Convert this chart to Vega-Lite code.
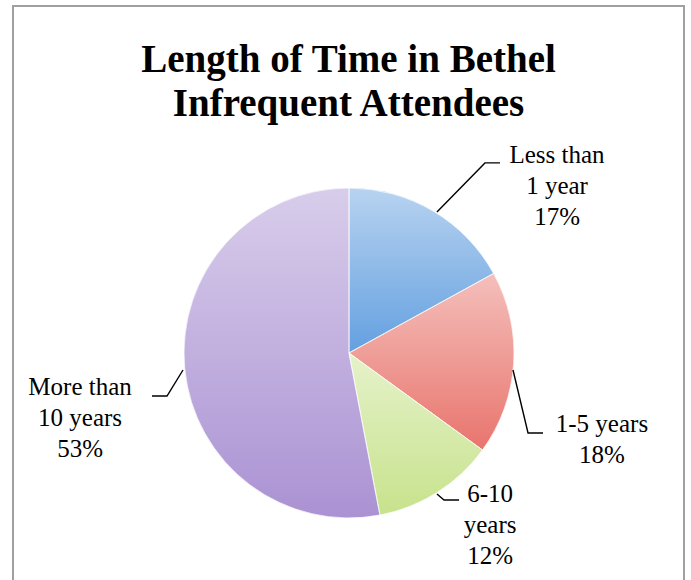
{
  "$schema": "https://vega.github.io/schema/vega-lite/v6.json",
  "width": 671,
  "height": 580,
  "autosize": "none",
  "padding": {"left": 13, "top": 6, "right": 7, "bottom": 0},
  "background": "#ffffff",
  "config": {
    "view": {"stroke": "#a0a0a0", "strokeWidth": 2},
    "font": "Liberation Serif"
  },
  "title": {
    "text": ["Length of Time in Bethel", "Infrequent Attendees"],
    "orient": "top",
    "anchor": "middle",
    "frame": "group",
    "offset": -118,
    "font": "Liberation Serif",
    "fontSize": 39,
    "fontWeight": "bold",
    "lineHeight": 44,
    "color": "#000000"
  },
  "datasets": {
    "shares": [
      {"category": "Less than 1 year", "percent": 17, "order": 1},
      {"category": "1-5 years", "percent": 18, "order": 2},
      {"category": "6-10 years", "percent": 12, "order": 3},
      {"category": "More than 10 years", "percent": 53, "order": 4}
    ],
    "labels": [
      {"category": "Less than 1 year", "text": "Less than\n1 year\n17%", "lx": 126.1, "ly": 115.2},
      {"category": "1-5 years", "text": "1-5 years\n18%", "lx": 153.3, "ly": -47.9},
      {"category": "6-10 years", "text": "6-10\nyears\n12%", "lx": 85.5, "ly": -90.3},
      {"category": "More than 10 years", "text": "More than\n10 years\n53%", "lx": -163.0, "ly": -25.5}
    ],
    "leaders": [
      {"category": "Less than 1 year", "step": 1, "lx": 53.3, "ly": 85.5},
      {"category": "Less than 1 year", "step": 2, "lx": 82.4, "ly": 115.2},
      {"category": "Less than 1 year", "step": 3, "lx": 91.5, "ly": 115.2},
      {"category": "1-5 years", "step": 1, "lx": 99.4, "ly": -10.3},
      {"category": "1-5 years", "step": 2, "lx": 108.5, "ly": -48.5},
      {"category": "1-5 years", "step": 3, "lx": 117.6, "ly": -48.5},
      {"category": "6-10 years", "step": 1, "lx": 53.3, "ly": -85.5},
      {"category": "6-10 years", "step": 2, "lx": 57.6, "ly": -89.1},
      {"category": "6-10 years", "step": 3, "lx": 66.7, "ly": -89.1},
      {"category": "More than 10 years", "step": 1, "lx": -100.6, "ly": -10.3},
      {"category": "More than 10 years", "step": 2, "lx": -110.3, "ly": -26.1},
      {"category": "More than 10 years", "step": 3, "lx": -119.4, "ly": -26.1}
    ]
  },
  "layer": [
    {
      "data": {"name": "shares"},
      "mark": {"type": "arc", "outerRadius": 165, "stroke": "#ffffff", "strokeOpacity": 0.5, "strokeWidth": 1},
      "encoding": {
        "x": {"datum": 0, "type": "quantitative", "scale": {"domain": [-203.636, 203.03], "nice": false, "zero": false}, "axis": null},
        "y": {"datum": 0, "type": "quantitative", "scale": {"domain": [-141.212, 210.303], "nice": false, "zero": false}, "axis": null},
        "theta": {"field": "percent", "type": "quantitative", "stack": true},
        "order": {"field": "order", "type": "quantitative"},
        "color": {
          "field": "category",
          "type": "nominal",
          "scale": {
            "domain": ["Less than 1 year", "1-5 years", "6-10 years", "More than 10 years"],
            "range": ["#619edf", "#e8726a", "#c6e28a", "#a990d2"]
          },
          "legend": null
        }
      }
    },
    {
      "data": {"name": "shares"},
      "mark": {
        "type": "arc",
        "outerRadius": 165,
        "fill": {
          "gradient": "linear",
          "x1": 0, "y1": 0, "x2": 0, "y2": 1,
          "stops": [
            {"offset": 0, "color": "rgba(255,255,255,0.55)"},
            {"offset": 1, "color": "rgba(255,255,255,0.02)"}
          ]
        },
        "stroke": "#ffffff",
        "strokeOpacity": 0.35,
        "strokeWidth": 1
      },
      "encoding": {
        "x": {"datum": 0, "type": "quantitative", "scale": {"domain": [-203.636, 203.03], "nice": false, "zero": false}, "axis": null},
        "y": {"datum": 0, "type": "quantitative", "scale": {"domain": [-141.212, 210.303], "nice": false, "zero": false}, "axis": null},
        "theta": {"field": "percent", "type": "quantitative", "stack": true},
        "order": {"field": "order", "type": "quantitative"}
      }
    },
    {
      "data": {"name": "leaders"},
      "mark": {"type": "line", "stroke": "#000000", "strokeWidth": 1.4},
      "encoding": {
        "x": {"field": "lx", "type": "quantitative", "scale": {"domain": [-203.636, 203.03], "nice": false, "zero": false}, "axis": null},
        "y": {"field": "ly", "type": "quantitative", "scale": {"domain": [-141.212, 210.303], "nice": false, "zero": false}, "axis": null},
        "detail": {"field": "category", "type": "nominal"},
        "order": {"field": "step", "type": "quantitative"}
      }
    },
    {
      "data": {"name": "labels"},
      "mark": {"type": "text", "align": "center", "baseline": "alphabetic", "lineBreak": "\n", "lineHeight": 31, "fontSize": 25, "font": "Liberation Serif", "color": "#000000"},
      "encoding": {
        "x": {"field": "lx", "type": "quantitative", "scale": {"domain": [-203.636, 203.03], "nice": false, "zero": false}, "axis": null},
        "y": {"field": "ly", "type": "quantitative", "scale": {"domain": [-141.212, 210.303], "nice": false, "zero": false}, "axis": null},
        "text": {"field": "text", "type": "nominal"}
      }
    }
  ]
}
